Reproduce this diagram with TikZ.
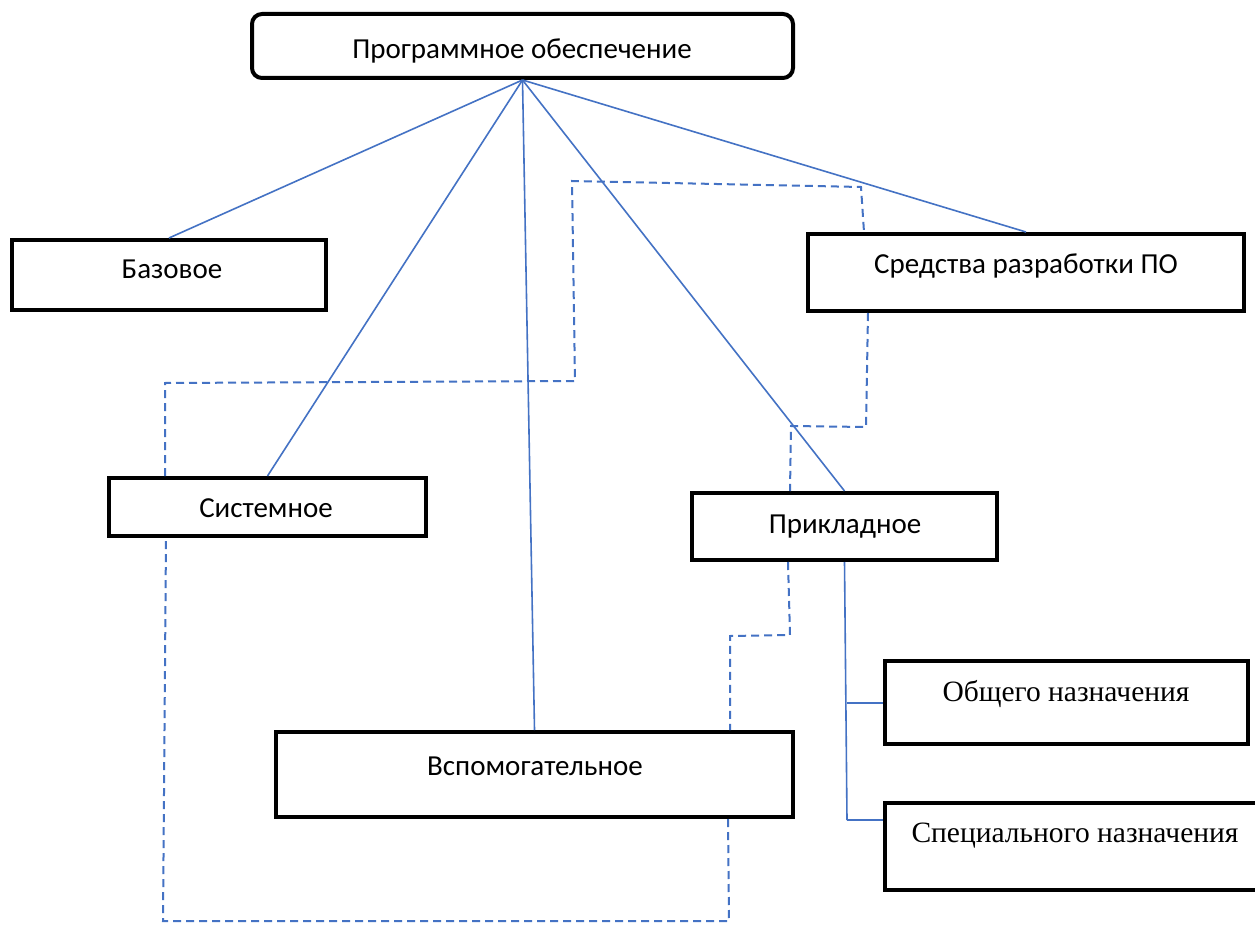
\documentclass[tikz,border=0pt]{standalone}
\usepackage{fontspec}
\setmainfont{Carlito}
\newfontfamily\tnr{Liberation Serif}
\usetikzlibrary{calc}
\definecolor{lnk}{HTML}{4472C4}
\tikzset{
  box/.style={draw=black, line width=4pt, fill=white, rectangle, inner sep=0pt},
  txt/.style={font=\fontsize{29}{34}\selectfont, inner sep=0pt, anchor=base},
  ttxt/.style={font=\tnr\fontsize{29.5}{34}\selectfont, inner sep=0pt, anchor=base},
  conn/.style={draw=lnk, line width=1.6pt},
  dsh/.style={draw=lnk, line width=2pt, dash pattern=on 8pt off 5pt},
}
\begin{document}
\begin{tikzpicture}[x=1pt,y=-1pt]
\path[use as bounding box, clip] (0,0) rectangle (1255,925);
\fill[white] (0,0) rectangle (1255,925);

% boxes
\node[box, rounded corners=10pt, minimum width=541pt, minimum height=64pt] (po) at (522.5,46) {};
\node[box, minimum width=314pt, minimum height=70pt] (base) at (169,275) {};
\node[box, minimum width=317pt, minimum height=58pt] (sys) at (267.5,507) {};
\node[box, minimum width=436pt, minimum height=77pt] (sred) at (1026,272.5) {};
\node[box, minimum width=305pt, minimum height=67pt] (prik) at (844.5,526.5) {};
\node[box, minimum width=517pt, minimum height=85pt] (vsp) at (534.5,774.5) {};
\node[box, minimum width=363pt, minimum height=83pt] (obsh) at (1066.5,702.5) {};
\node[box, minimum width=377pt, minimum height=87pt] (spec) at (1073.5,846.5) {};

% texts
\node[txt] (po-t) at (522,59) {Программное обеспечение};
\node[txt] (base-t) at (172,279) {Базовое};
\node[txt] (sys-t) at (266,517) {Системное};
\node[txt] (sred-t) at (1026,273) {Средства разработки ПО};
\node[txt] (prik-t) at (845,533) {Прикладное};
\node[txt] (vsp-t) at (535,775) {Вспомогательное};
\node[ttxt] (obsh-t) at (1066,701) {Общего назначения};
\node[ttxt] (spec-t) at (1075,842) {Специального назначения};

% solid connectors
\draw[conn] (po.south) -- (base.north);
\draw[conn] (po.south) -- (sys.north);
\draw[conn] (po.south) -- (vsp.north);
\draw[conn] (po.south) -- (prik.north);
\draw[conn] (po.south) -- (sred.north);

\coordinate (br) at (847,820);
\coordinate (b1) at (847,703);
\draw[conn] (prik.south) -- (br);
\draw[conn] (b1) -- (b1 -| obsh.west);
\draw[conn] (br) -- (br -| spec.west);

% dashed connectors
\draw[dsh] (165,0 |- sys.north) -- (165,383) -- (575,381) -- (572,181) -- (861,187) -- (864,0 |- sred.north);
\draw[dsh] (868,0 |- sred.south) -- (866,427) -- (791,426) -- (790,0 |- prik.north);
\draw[dsh] (788,0 |- prik.south) -- (790,635) -- (730,636) -- (730,0 |- vsp.north);
\draw[dsh] (728,0 |- vsp.south) -- (729,921) -- (163,921) -- (166,0 |- sys.south);
\end{tikzpicture}
\end{document}
